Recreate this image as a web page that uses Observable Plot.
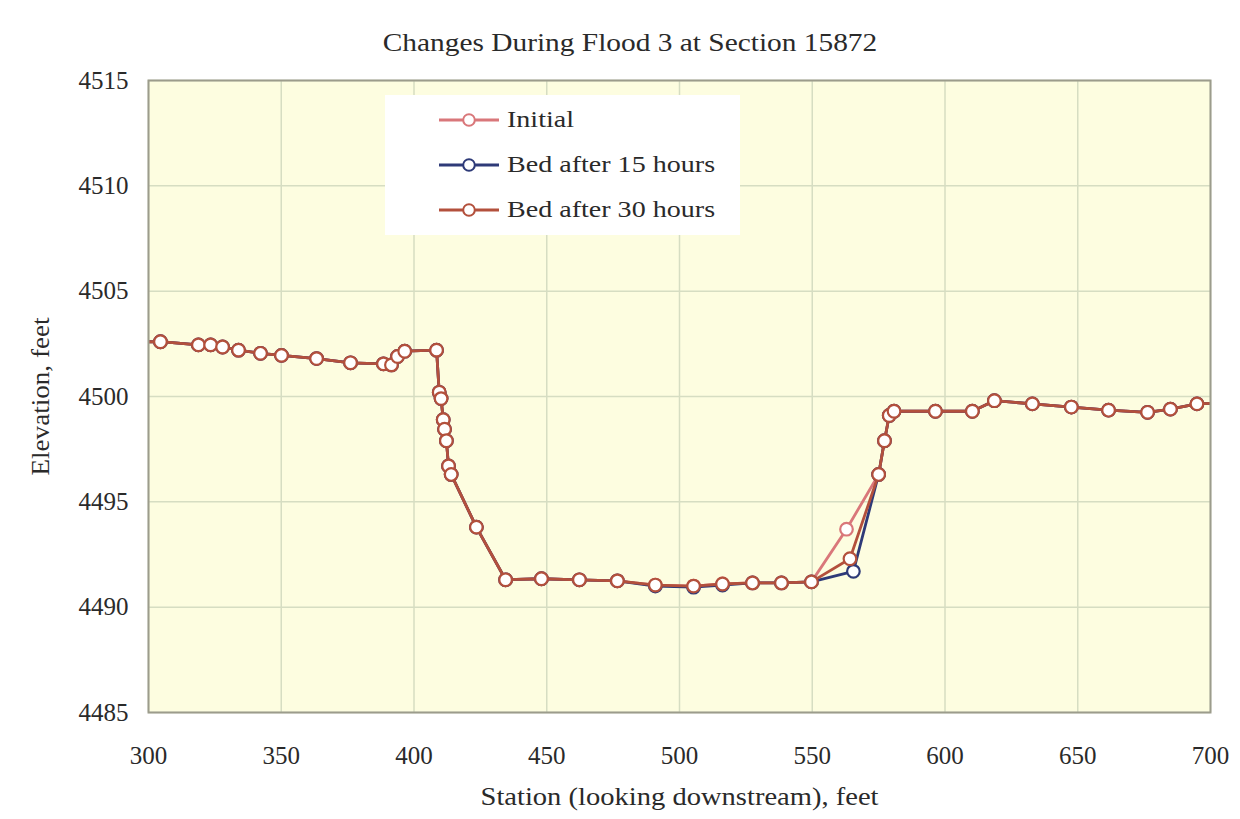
<!DOCTYPE html>
<html>
<head>
<meta charset="utf-8">
<script src="https://cdn.jsdelivr.net/npm/d3@7"></script>
<script src="https://cdn.jsdelivr.net/npm/@observablehq/plot@0.6"></script>
<style>
  body { margin: 0; background: #ffffff; font-family: "Liberation Serif", "Times New Roman", serif; }
  #wrap { position: relative; width: 1240px; height: 819px; overflow: hidden; }
  #title { position: absolute; top: 28px; left: 330px; width: 600px; text-align: center; font-size: 26px; color: #2a2a2a; white-space: nowrap; transform: scaleX(1.13); transform-origin: 300px 0; }
  #chart { position: absolute; top: 60px; left: 0; }
  #legend { position: absolute; left: 385px; top: 95px; width: 355px; height: 140px; background: #ffffff; }
  .row { position: absolute; left: 52px; height: 30px; display: flex; align-items: center; font-size: 23px; color: #2a2a2a; white-space: nowrap; }
  .row svg { margin-right: 6px; }
  .row span { display: inline-block; transform: scaleX(1.22); transform-origin: 0 50%; }
</style>
</head>
<body>
<div id="wrap">
  <div id="title"></div>
  <div id="chart"></div>
  <div id="legend"></div>
</div>
<script>
// ---- data ----
const titleText = "Changes During Flood 3 at Section 15872";
const xLabel = "Station (looking downstream), feet";
const yLabel = "Elevation, feet";
const xTicks = [300, 350, 400, 450, 500, 550, 600, 650, 700];
const yTicks = [4485, 4490, 4495, 4500, 4505, 4510, 4515];

const seriesNames = ["Initial", "Bed after 15 hours", "Bed after 30 hours"];
const seriesColors = ["#d9777a", "#2e3a78", "#b3503c"];

const stationsInitial = [296, 304.5, 318.8, 323.4, 327.9, 333.9, 342.2, 350.1, 363.3, 376.1, 388.5, 391.5, 393.8, 396.5, 408.5, 409.5, 410.2, 411, 411.5, 412.2, 413, 414, 423.5, 434.5, 448, 462.3, 476.6, 490.9, 505.3, 516.2, 527.5, 538.4, 549.7, 562.9, 575, 577.2, 579, 580.8, 596.4, 610.3, 618.6, 632.9, 647.6, 661.6, 676.3, 684.9, 694.9, 706];
const elevInitial = [4502.6, 4502.6, 4502.45, 4502.45, 4502.35, 4502.2, 4502.05, 4501.95, 4501.8, 4501.6, 4501.55, 4501.5, 4501.9, 4502.15, 4502.2, 4500.2, 4499.9, 4498.9, 4498.45, 4497.9, 4496.7, 4496.3, 4493.8, 4491.3, 4491.35, 4491.3, 4491.25, 4491.05, 4491.0, 4491.1, 4491.15, 4491.15, 4491.2, 4493.7, 4496.3, 4497.9, 4499.1, 4499.3, 4499.3, 4499.3, 4499.8, 4499.65, 4499.5, 4499.35, 4499.25, 4499.4, 4499.65, 4499.7];

const stations15 = [296, 304.5, 318.8, 323.4, 327.9, 333.9, 342.2, 350.1, 363.3, 376.1, 388.5, 391.5, 393.8, 396.5, 408.5, 409.5, 410.2, 411, 411.5, 412.2, 413, 414, 423.5, 434.5, 448, 462.3, 476.6, 490.9, 505.3, 516.2, 527.5, 538.4, 549.7, 565.5, 575, 577.2, 579, 580.8, 596.4, 610.3, 618.6, 632.9, 647.6, 661.6, 676.3, 684.9, 694.9, 706];
const elev15 = [4502.6, 4502.6, 4502.45, 4502.45, 4502.35, 4502.2, 4502.05, 4501.95, 4501.8, 4501.6, 4501.55, 4501.5, 4501.9, 4502.15, 4502.2, 4500.2, 4499.9, 4498.9, 4498.45, 4497.9, 4496.7, 4496.3, 4493.8, 4491.3, 4491.35, 4491.3, 4491.25, 4491.0, 4490.95, 4491.05, 4491.15, 4491.15, 4491.2, 4491.7, 4496.3, 4497.9, 4499.1, 4499.3, 4499.3, 4499.3, 4499.8, 4499.65, 4499.5, 4499.35, 4499.25, 4499.4, 4499.65, 4499.7];

const stations30 = [296, 304.5, 318.8, 323.4, 327.9, 333.9, 342.2, 350.1, 363.3, 376.1, 388.5, 391.5, 393.8, 396.5, 408.5, 409.5, 410.2, 411, 411.5, 412.2, 413, 414, 423.5, 434.5, 448, 462.3, 476.6, 490.9, 505.3, 516.2, 527.5, 538.4, 549.7, 564.2, 575, 577.2, 579, 580.8, 596.4, 610.3, 618.6, 632.9, 647.6, 661.6, 676.3, 684.9, 694.9, 706];
const elev30 = [4502.6, 4502.6, 4502.45, 4502.45, 4502.35, 4502.2, 4502.05, 4501.95, 4501.8, 4501.6, 4501.55, 4501.5, 4501.9, 4502.15, 4502.2, 4500.2, 4499.9, 4498.9, 4498.45, 4497.9, 4496.7, 4496.3, 4493.8, 4491.3, 4491.35, 4491.3, 4491.25, 4491.05, 4491.0, 4491.1, 4491.15, 4491.15, 4491.2, 4492.3, 4496.3, 4497.9, 4499.1, 4499.3, 4499.3, 4499.3, 4499.8, 4499.65, 4499.5, 4499.35, 4499.25, 4499.4, 4499.65, 4499.7];

// ---- build tables ----
function toRows(xs, ys) { return xs.map((x, i) => ({station: x, elev: ys[i]})); }
const tables = [toRows(stationsInitial, elevInitial), toRows(stations15, elev15), toRows(stations30, elev30)];

const seriesMarks = [];
tables.forEach((rows, i) => {
  seriesMarks.push(Plot.line(rows, {x: "station", y: "elev", stroke: seriesColors[i], strokeWidth: 2.8, clip: true}));
  seriesMarks.push(Plot.dot(rows, {x: "station", y: "elev", r: 6.3, stroke: seriesColors[i], strokeWidth: 2.2, fill: "#ffffff", clip: true}));
});

const chart = Plot.plot({
  width: 1240,
  height: 759,
  marginLeft: 148,
  marginRight: 30,
  marginTop: 20,
  marginBottom: 107,
  style: {fontFamily: "'Liberation Serif', 'Times New Roman', serif", fontSize: "25px", color: "#2a2a2a", background: "transparent", overflow: "visible"},
  x: {type: "linear", domain: [300, 700]},
  y: {type: "linear", domain: [4485, 4515]},
  marks: [
    Plot.frame({fill: "#fdfde0"}),
    Plot.gridX(xTicks, {stroke: "#d6ddc2", strokeOpacity: 1, strokeWidth: 1.5}),
    Plot.gridY(yTicks, {stroke: "#d6ddc2", strokeOpacity: 1, strokeWidth: 1.5}),
    Plot.axisX(xTicks, {tickSize: 0, tickPadding: 34, tickFormat: d => String(d), label: xLabel, labelAnchor: "center", labelOffset: 92, labelArrow: "none"}),
    Plot.axisY(yTicks, {tickSize: 0, tickPadding: 20, tickFormat: d => String(d), label: yLabel, labelAnchor: "center", labelOffset: 118, labelArrow: "none"}),
    ...seriesMarks,
    Plot.frame({stroke: "#9c9c8c", strokeWidth: 2})
  ]
});
// stretch tick labels horizontally a little, and size axis titles like the reference
d3.select(chart).selectAll('g[aria-label="x-axis tick label"] text, g[aria-label="y-axis tick label"] text')
  .attr("font-size", 25);
d3.select(chart).selectAll('g[aria-label="x-axis label"] text')
  .attr("font-size", 26).attr("textLength", 398).attr("lengthAdjust", "spacingAndGlyphs");
d3.select(chart).selectAll('g[aria-label="y-axis label"] text')
  .attr("font-size", 26).attr("textLength", 158).attr("lengthAdjust", "spacingAndGlyphs");
document.getElementById("chart").appendChild(chart);
document.getElementById("title").textContent = titleText;

// ---- legend ----
const legend = document.getElementById("legend");
const rowTops = [10, 55, 100];
seriesNames.forEach((name, i) => {
  const row = document.createElement("div");
  row.className = "row";
  row.style.top = rowTops[i] + "px";
  const svg = d3.create("svg").attr("width", 64).attr("height", 20);
  svg.append("line").attr("x1", 2).attr("x2", 62).attr("y1", 10).attr("y2", 10)
    .attr("stroke", seriesColors[i]).attr("stroke-width", 2.8);
  svg.append("circle").attr("cx", 32).attr("cy", 10).attr("r", 5.8)
    .attr("stroke", seriesColors[i]).attr("stroke-width", 2).attr("fill", "#ffffff");
  row.appendChild(svg.node());
  const span = document.createElement("span");
  span.textContent = name;
  row.appendChild(span);
  legend.appendChild(row);
});
</script>
</body>
</html>
